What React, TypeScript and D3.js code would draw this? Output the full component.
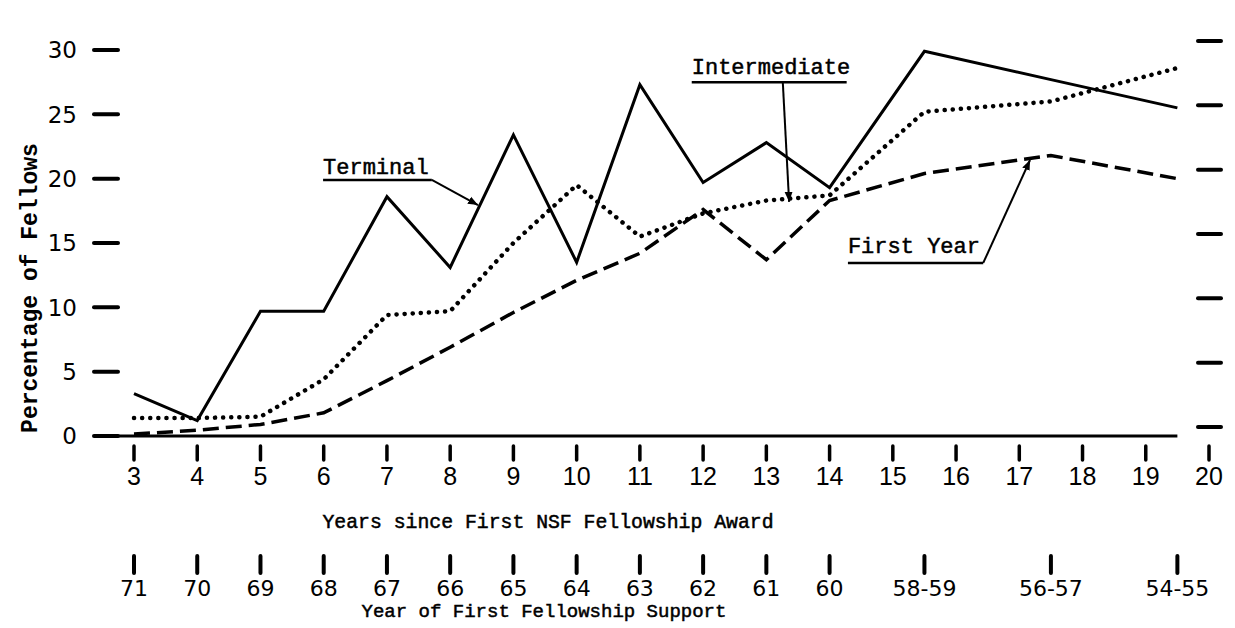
import React, { useEffect, useRef } from 'react';
import * as d3 from 'd3';

// years since first NSF fellowship award (the last three are the paired cohorts)
const YEARS = [3, 4, 5, 6, 7, 8, 9, 10, 11, 12, 13, 14, 15.5, 17.5, 19.5];
const TERMINAL = [3.3, 1.2, 9.7, 9.7, 18.6, 13.1, 23.4, 13.5, 27.3, 19.7, 22.8, 19.3, 29.9, 27.7, 25.5];
const INTERMEDIATE = [1.4, 1.4, 1.5, 4.4, 9.4, 9.7, 15.0, 19.5, 15.5, 17.3, 18.3, 18.7, 25.2, 26.0, 28.6];
const FIRST_YEAR = [0.15, 0.45, 0.9, 1.8, 4.3, 6.9, 9.6, 12.1, 14.2, 17.6, 13.7, 18.3, 20.4, 21.8, 20.0];

const Y_TICKS = [0, 5, 10, 15, 20, 25, 30];
const SINCE_TICKS = [3, 4, 5, 6, 7, 8, 9, 10, 11, 12, 13, 14, 15, 16, 17, 18, 19, 20];
const SUPPORT_POS = [3, 4, 5, 6, 7, 8, 9, 10, 11, 12, 13, 14, 15.5, 17.5, 19.5];
const SUPPORT_LABELS = ['71', '70', '69', '68', '67', '66', '65', '64', '63', '62', '61', '60', '58-59', '56-57', '54-55'];

// callouts, in data units: text start, baseline, underline end, arrow start, arrow tip
const CALLOUTS = [
  { text: 'Terminal', x: 5.99, y: 20.4, ux: 7.71, uy: 19.9, ax: 7.71, tx: 8.44, ty: 17.95 },
  { text: 'Intermediate', x: 11.82, y: 28.1, ux: 14.27, uy: 27.5, ax: 13.26, tx: 13.36, ty: 18.2 },
  { text: 'First Year', x: 14.29, y: 14.2, ux: 16.43, uy: 13.45, ax: 16.43, tx: 17.17, ty: 21.45 },
];

const MONO = '"Liberation Mono", "Courier New", monospace';

const App = () => {
  const ref = useRef<SVGSVGElement | null>(null);

  useEffect(() => {
    if (!ref.current) return;
    const svg = d3.select(ref.current);
    svg.selectAll('*').remove();

    const x = d3.scaleLinear().domain([3, 20]).range([134, 1209]);
    const y = d3.scaleLinear().domain([0, 30]).range([436, 50]);

    svg.append('rect').attr('width', 1235).attr('height', 628).attr('fill', '#fff');

    // y ticks on both sides (the right-hand set sits a little higher in the scan)
    const g = svg.append('g');
    Y_TICKS.forEach(v => {
      g.append('line')
        .attr('x1', x(3) - 40).attr('x2', x(3) - 16)
        .attr('y1', y(v)).attr('y2', y(v))
        .attr('stroke', '#000').attr('stroke-width', 4).attr('stroke-linecap', 'round');
      g.append('line')
        .attr('x1', x(20) - 11).attr('x2', x(20) + 12)
        .attr('y1', y(v) - 9).attr('y2', y(v) - 9)
        .attr('stroke', '#000').attr('stroke-width', 4).attr('stroke-linecap', 'round');
      g.append('text')
        .attr('x', 77).attr('y', y(v)).attr('dy', '0.36em')
        .attr('text-anchor', 'end')
        .attr('font-family', '"DejaVu Sans", sans-serif').attr('font-size', 23)
        .text(v);
    });

    svg.append('text')
      .attr('transform', `translate(37,${(y(0) + y(30)) / 2 + 45}) rotate(-90)`)
      .attr('text-anchor', 'middle')
      .attr('font-family', MONO).attr('font-size', 23).attr('font-weight', 'bold')
      .text('Percentage of Fellows');

    // baseline
    svg.append('line')
      .attr('x1', x(2.4)).attr('x2', x(19.5))
      .attr('y1', y(0)).attr('y2', y(0))
      .attr('stroke', '#000').attr('stroke-width', 3);

    // first x axis: years since award
    SINCE_TICKS.forEach(t => {
      svg.append('line')
        .attr('x1', x(t)).attr('x2', x(t))
        .attr('y1', 446).attr('y2', 460)
        .attr('stroke', '#000').attr('stroke-width', 3.5).attr('stroke-linecap', 'round');
      svg.append('text')
        .attr('x', x(t)).attr('y', 485)
        .attr('text-anchor', 'middle')
        .attr('font-family', '"Liberation Sans", Arial, sans-serif').attr('font-size', 25)
        .text(t);
    });
    svg.append('text')
      .attr('x', 548).attr('y', 528)
      .attr('text-anchor', 'middle')
      .attr('font-family', MONO).attr('font-size', 19.8)
      .attr('stroke', '#000').attr('stroke-width', 0.5)
      .text('Years since First NSF Fellowship Award');

    // second x axis: year of first support
    SUPPORT_POS.forEach((p, i) => {
      svg.append('line')
        .attr('x1', x(p)).attr('x2', x(p))
        .attr('y1', 556).attr('y2', 573)
        .attr('stroke', '#000').attr('stroke-width', 4).attr('stroke-linecap', 'round');
      svg.append('text')
        .attr('x', x(p)).attr('y', 596)
        .attr('text-anchor', 'middle')
        .attr('font-family', '"DejaVu Sans", sans-serif').attr('font-size', 22)
        .text(SUPPORT_LABELS[i]);
    });
    svg.append('text')
      .attr('x', 544).attr('y', 617)
      .attr('text-anchor', 'middle')
      .attr('font-family', MONO).attr('font-size', 19)
      .attr('stroke', '#000').attr('stroke-width', 0.5)
      .text('Year of First Fellowship Support');

    // series
    const line = d3.line<number>().x((_, i) => x(YEARS[i])).y(d => y(d));

    svg.append('path')
      .attr('d', line(FIRST_YEAR))
      .attr('fill', 'none').attr('stroke', '#000')
      .attr('stroke-width', 3.5).attr('stroke-dasharray', '16 7');

    svg.append('path')
      .attr('d', line(INTERMEDIATE))
      .attr('fill', 'none').attr('stroke', '#000')
      .attr('stroke-width', 4.5).attr('stroke-linecap', 'round')
      .attr('stroke-dasharray', '0.1 8');

    svg.append('path')
      .attr('d', line(TERMINAL))
      .attr('fill', 'none').attr('stroke', '#000')
      .attr('stroke-width', 3).attr('stroke-linejoin', 'miter');

    // callouts
    svg.append('defs').append('marker')
      .attr('id', 'arrow').attr('viewBox', '0 0 10 10')
      .attr('refX', 10).attr('refY', 5)
      .attr('markerWidth', 10).attr('markerHeight', 10)
      .attr('markerUnits', 'userSpaceOnUse')
      .attr('orient', 'auto')
      .append('path').attr('d', 'M0,1 L10,5 L0,9 Z').attr('fill', '#000');

    CALLOUTS.forEach(c => {
      svg.append('text')
        .attr('x', x(c.x)).attr('y', y(c.y))
        .attr('font-family', MONO).attr('font-size', 22)
        .attr('stroke', '#000').attr('stroke-width', 0.5)
        .text(c.text);
      svg.append('line')
        .attr('x1', x(c.x)).attr('x2', x(c.ux))
        .attr('y1', y(c.uy)).attr('y2', y(c.uy))
        .attr('stroke', '#000').attr('stroke-width', 2.5);
      svg.append('line')
        .attr('x1', x(c.ax)).attr('y1', y(c.uy))
        .attr('x2', x(c.tx)).attr('y2', y(c.ty))
        .attr('stroke', '#000').attr('stroke-width', 2)
        .attr('marker-end', 'url(#arrow)');
    });
  }, []);

  return (
    <div style={{ position: 'absolute', left: 0, top: 0 }}>
      <svg ref={ref} width={1235} height={628} style={{ display: 'block' }} />
    </div>
  );
};

export default App;
